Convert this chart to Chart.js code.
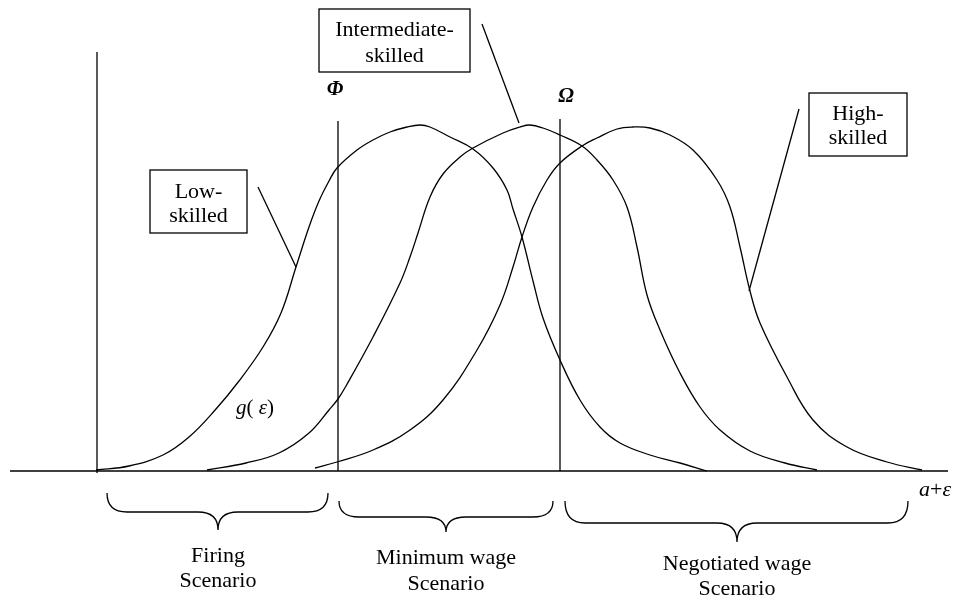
<!DOCTYPE html>
<html>
<head>
<meta charset="utf-8">
<script src="https://cdn.jsdelivr.net/npm/chart.js@4/dist/chart.umd.min.js"></script>
<style>
  html, body { margin: 0; padding: 0; background: #fff; }
  #wrap { width: 958px; height: 598px; position: relative; }
</style>
</head>
<body>
<div id="wrap"><canvas id="skills"></canvas></div>
<script>
// x = a+ε position, y = density g(ε) height above the axis (same units as x)
const lowSkilled = [
  [96, 1], [129, 5], [163, 16], [189, 34], [216, 62], [239, 90], [263, 124],
  [281, 158], [296, 204], [309, 244], [319, 270], [329, 290], [337, 303],
  [357, 321], [373, 331], [390, 339], [407, 344], [420, 346], [430, 344],
  [450, 334], [473, 322], [493, 303], [507, 281], [513, 262], [522, 234],
  [533, 190], [543, 153], [560, 111], [580, 71], [600, 44], [620, 28],
  [650, 16], [680, 8], [707, 0]
];
const intermediateSkilled = [
  [207, 1], [246, 8], [279, 18], [309, 38], [329, 61], [338, 72], [346, 85],
  [373, 134], [400, 188], [410, 214], [418, 238], [430, 274], [443, 297],
  [460, 314], [473, 323], [503, 338], [520, 344], [530, 346], [543, 343],
  [560, 336], [582, 325], [597, 311], [613, 291], [627, 264], [637, 224],
  [647, 176], [660, 141], [680, 98], [700, 64], [720, 41], [750, 20],
  [785, 8], [817, 1]
];
const highSkilled = [
  [315, 3], [337, 9], [373, 21], [410, 41], [443, 71], [477, 121], [500, 166],
  [513, 204], [522, 234], [533, 264], [547, 291], [560, 308], [582, 325],
  [597, 333], [617, 342], [633, 344], [650, 343], [670, 336], [693, 321],
  [717, 291], [730, 264], [740, 224], [750, 180], [760, 148], [787, 94],
  [813, 51], [847, 24], [887, 9], [922, 1]
];

// thresholds on the a+ε axis
const thresholds = [
  { name: 'origin', x: 97, top: 419, bottom: -2 },
  { name: 'Φ', x: 338, top: 350, bottom: 0 },
  { name: 'Ω', x: 560, top: 352, bottom: 0 }
];
const axisRange = [10, 948];

// leader lines from label boxes to their curve
const leaders = [
  [[258, 284], [296, 204]],
  [[482, 447], [519, 348]],
  [[799, 362], [749, 180]]
];

// label boxes (x1, x2, yTop, yBottom) and their text lines
const boxes = [
  { x1: 150, x2: 247, top: 301, bottom: 238, lines: ['Low-', 'skilled'], base: [273, 249] },
  { x1: 319, x2: 470, top: 462, bottom: 399, lines: ['Intermediate-', 'skilled'], base: [435, 409] },
  { x1: 809, x2: 907, top: 378, bottom: 315, lines: ['High-', 'skilled'], base: [351, 327] }
];

// braces below the axis with scenario names
const scenarios = [
  { x1: 107, x2: 328, top: -22, mid: -41, tip: -59, cx: 218, lines: ['Firing', 'Scenario'], base: [-91, -116] },
  { x1: 339, x2: 553, top: -30, mid: -46, tip: -61, cx: 446, lines: ['Minimum wage', 'Scenario'], base: [-93, -119] },
  { x1: 565, x2: 908, top: -30, mid: -52, tip: -71, cx: 737, lines: ['Negotiated wage', 'Scenario'], base: [-99, -124] }
];

const serif = '"Liberation Serif", "Times New Roman", serif';

function line(points, extra) {
  return Object.assign({
    data: points.map(p => ({ x: p[0], y: p[1] })),
    showLine: true,
    borderColor: '#000',
    borderWidth: 1.3,
    pointRadius: 0,
    fill: false,
    tension: 0
  }, extra || {});
}

const datasets = [
  line(lowSkilled, { tension: 0.4 }),
  line(intermediateSkilled, { tension: 0.4 }),
  line(highSkilled, { tension: 0.4 }),
  line([[axisRange[0], 0], [axisRange[1], 0]], { borderWidth: 1.6 })
];
thresholds.forEach(t => datasets.push(line([[t.x, t.bottom], [t.x, t.top]])));
leaders.forEach(l => datasets.push(line(l)));

const annotations = {
  id: 'annotations',
  beforeDraw(chart) {
    const c = chart.ctx;
    c.save();
    c.fillStyle = '#fff';
    c.fillRect(0, 0, chart.width, chart.height);
    c.restore();
  },
  afterDatasetsDraw(chart) {
    const c = chart.ctx;
    const X = v => chart.scales.x.getPixelForValue(v);
    const Y = v => chart.scales.y.getPixelForValue(v);
    c.save();
    c.strokeStyle = '#000';
    c.fillStyle = '#000';
    c.lineWidth = 1.3;
    c.textAlign = 'center';
    c.textBaseline = 'alphabetic';

    boxes.forEach(b => {
      c.strokeRect(X(b.x1), Y(b.top), X(b.x2) - X(b.x1), Y(b.bottom) - Y(b.top));
      c.font = '22px ' + serif;
      b.lines.forEach((t, i) => c.fillText(t, (X(b.x1) + X(b.x2)) / 2, Y(b.base[i])));
    });

    scenarios.forEach(s => {
      const x1 = X(s.x1), x2 = X(s.x2), xc = X(s.cx);
      const top = Y(s.top), mid = Y(s.mid), tip = Y(s.tip);
      const r = 20;
      c.beginPath();
      c.moveTo(x1, top);
      c.quadraticCurveTo(x1, mid, x1 + r, mid);
      c.lineTo(xc - r, mid);
      c.quadraticCurveTo(xc, mid, xc, tip);
      c.quadraticCurveTo(xc, mid, xc + r, mid);
      c.lineTo(x2 - r, mid);
      c.quadraticCurveTo(x2, mid, x2, top);
      c.stroke();
      c.font = '22px ' + serif;
      s.lines.forEach((t, i) => c.fillText(t, xc, Y(s.base[i])));
    });

    // threshold symbols
    c.font = 'italic bold 21px ' + serif;
    c.fillText('Φ', X(335), Y(376));
    c.fillText('Ω', X(566), Y(369));

    // mixed italic / upright labels
    function runs(parts, x, y) {
      let px = x;
      parts.forEach(p => {
        c.font = (p[1] ? 'italic ' : '') + p[2] + 'px ' + serif;
        c.textAlign = 'left';
        c.fillText(p[0], px, y);
        px += c.measureText(p[0]).width;
      });
    }
    runs([['g', true, 21], ['( ', false, 21], ['ε', true, 21], [')', false, 21]], X(236), Y(57));
    runs([['a', true, 22], ['+', false, 22], ['ε', true, 22]], X(919), Y(-25));
    c.restore();
  }
};

new Chart(document.getElementById('skills'), {
  type: 'scatter',
  data: { datasets: datasets },
  options: {
    responsive: true,
    maintainAspectRatio: false,
    animation: false,
    layout: { padding: 0 },
    plugins: {
      legend: { display: false },
      tooltip: { enabled: false }
    },
    scales: {
      x: { type: 'linear', min: 0, max: 958, display: false },
      y: { type: 'linear', min: -127, max: 471, display: false }
    }
  },
  plugins: [annotations]
});
</script>
</body>
</html>
